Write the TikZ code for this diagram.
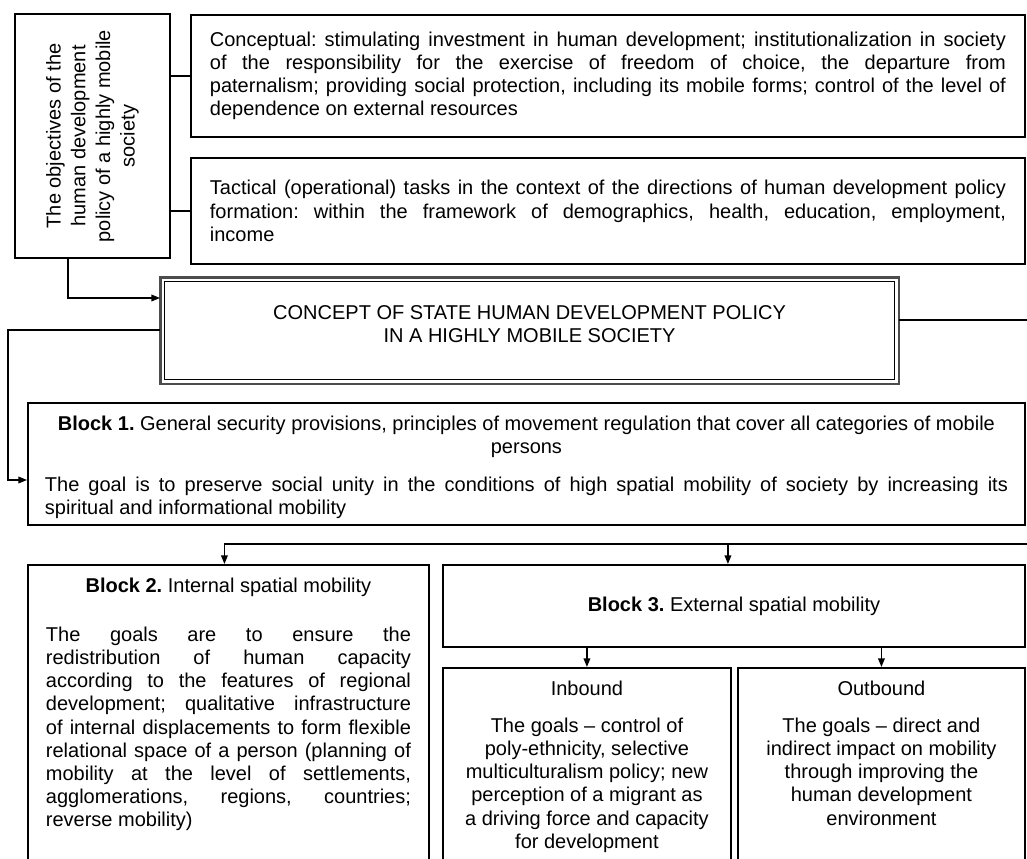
\documentclass[tikz,border=0pt]{standalone}
\usepackage{fontspec}
\setmainfont{Liberation Sans}
\usetikzlibrary{arrows.meta,calc}
\newcommand\fsz{\fontsize{15pt}{17.4pt}\selectfont}
\tolerance=9999
\hbadness=10000
\hyphenpenalty=10000
\frenchspacing
\begin{document}
\frenchspacing
\begin{tikzpicture}[x=0.75pt,y=-0.75pt,
  box/.style={draw=black, line width=1.4pt, inner sep=0pt, anchor=north west, font=\fsz},
  conn/.style={line width=1.1pt},
  arr/.style={conn, -{Triangle[length=6.5pt,width=5pt]}}]
\clip (0,0) rectangle (1027,859);
\fill[white] (0,0) rectangle (1027,859);

% objectives (vertical text)
\node[box, anchor=center, rotate=90, minimum width=183pt, minimum height=116.25pt] (V) at (92.5,136)
  {\parbox{172pt}{\centering\fontsize{15pt}{18.5pt}\selectfont The objectives of the\\human development\\policy of a highly mobile\\society}};

% conceptual
\node[box, minimum width=625.5pt, minimum height=91.5pt] (C) at (190,14)
  {\parbox{597pt}{\fsz Conceptual: stimulating investment in human development; institutionalization in society\linebreak of the responsibility for the exercise of freedom of choice, the departure from\linebreak paternalism; providing social protection, including its mobile forms; control of the level of\linebreak dependence on external resources}};

% tactical
\node[box, minimum width=625.5pt, minimum height=79.5pt] (T) at (190,157)
  {\parbox{597pt}{\fsz Tactical (operational) tasks in the context of the directions of human development policy\linebreak formation: within the framework of demographics, health, education, employment,\linebreak income}};

% concept
\node[box, line width=0.8pt, minimum width=547.5pt, minimum height=73.5pt] (K) at (164,281)
  {\parbox{540pt}{\fsz\centering CONCEPT OF STATE HUMAN DEVELOPMENT POLICY\\IN A HIGHLY MOBILE SOCIETY\par\vspace{10pt}}};
\draw[gray!60!black, line width=1.6pt] ($(K.north west)+(-3.5,-3.5)$) rectangle ($(K.south east)+(3.5,3.5)$);

% block 1
\node[box, minimum width=747.75pt, minimum height=91.5pt] (B1) at (27,402)
  {\parbox[c][91.5pt][t]{722.25pt}{\fsz\vspace*{9.5pt}{\centering\textbf{Block 1.} General security provisions, principles of movement regulation that cover all categories of mobile\\persons\par}\vspace{11pt}The goal is to preserve social unity in the conditions of high spatial mobility of society by increasing its\linebreak spiritual and informational mobility}};

% block 2
\node[box, minimum width=300.75pt, minimum height=252pt] (B2) at (27,564)
  {\parbox[c][252pt][t]{273.75pt}{\fsz\vspace*{10pt}{\centering\textbf{Block 2.} Internal spatial mobility\par}\vspace{19pt}The goals are to ensure the\linebreak redistribution of human capacity\linebreak according to the features of regional\linebreak development; qualitative infrastructure\linebreak of internal displacements to form flexible\linebreak relational space of a person (planning of\linebreak mobility at the level of settlements,\linebreak agglomerations, regions, countries;\linebreak reverse mobility)}};

% block 3
\node[box, minimum width=436.5pt, minimum height=61.5pt] (B3) at (442,564)
  {\textbf{Block 3.} External spatial mobility};

% inbound
\node[box, minimum width=216pt, minimum height=174.75pt] (I) at (442,667)
  {\parbox[c][174.75pt][t]{201pt}{\fsz\centering\vspace*{10pt}Inbound\par\vspace{10pt}The goals \textendash{} control of\\poly-ethnicity, selective\\multiculturalism policy; new\\perception of a migrant as\\a driving force and capacity\\for development}};

% outbound
\node[box, minimum width=215.25pt, minimum height=174.75pt] (O) at (737,667)
  {\parbox[c][174.75pt][t]{201pt}{\fsz\centering\vspace*{10pt}Outbound\par\vspace{10pt}The goals \textendash{} direct and\\indirect impact on mobility\\through improving the\\human development\\environment}};

% connectors
\draw[conn] (C.west) -- (C.west -| V.south);
\draw[conn] (T.west) -- (T.west -| V.south);
\draw[arr] ($(V.west)+(-24.5,0)$) |- ($(K.north west)+(-4,17)$);
\draw[arr] ($(K.north west)+(-4,49)$) -- ++(-152,0) |- ($(B1.north west)+(0,78)$);
\draw[conn] ($(K.north east)+(4,39)$) -- ++(140,0);
\coordinate (bus) at (1030,544);
\draw[arr] (bus) -| ($(B2.north)+(-4,0)$);
\path ($(B3.north)+(-6,0)$) coordinate (b3t);
\draw[arr] (b3t |- bus) -- (b3t);
\draw[arr] (I.north |- B3.south) -- (I.north);
\draw[arr] (O.north |- B3.south) -- (O.north);
\end{tikzpicture}
\end{document}
